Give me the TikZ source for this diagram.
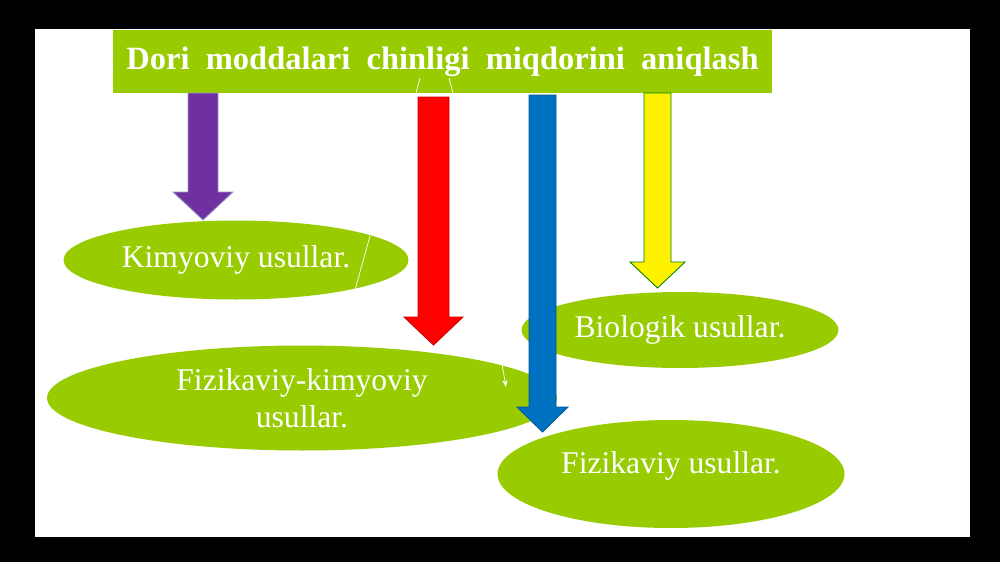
\documentclass[tikz,border=0pt]{standalone}
\usepackage{fontspec}
\setmainfont{Liberation Serif}
\usetikzlibrary{shapes.geometric,calc,arrows.meta}
\definecolor{slidegreen}{RGB}{153,204,0}
\definecolor{arrpurple}{RGB}{112,48,160}
\definecolor{arrblue}{RGB}{0,112,192}
\tikzstyle{head}=[fill=slidegreen, text=white, minimum width=13.18cm, minimum height=1.26cm, font=\bfseries\fontsize{18.5}{22}\selectfont]
\tikzstyle{method}=[ellipse, fill=slidegreen, text=white, inner sep=0pt, align=center, font=\fontsize{18}{21}\selectfont]
\tikzstyle{trace}=[white, thin]
% fat vertical arrow: fill, outline, shaft half width, head half width, head length, from, tip
\newcommand{\fatarrow}[7]{%
  \filldraw[fill=#1, draw=#2, line width=0.5pt]
    ($(#6)+(-#3,0)$) -- ($(#7)+(-#3,-#5)$) -- ($(#7)+(-#4,-#5)$) -- (#7)
    -- ($(#7)+(#4,-#5)$) -- ($(#7)+(#3,-#5)$) -- ($(#6)+(#3,0)$) -- cycle;}

\begin{document}
\begin{tikzpicture}[x=0.02cm,y=-0.02cm]
        \fill[black] (0,0) rectangle (1000,562);
        \fill[white] (35,29) rectangle (970,537);

        \node [head] (title) at (442.5,61.5) {Dori\ \ moddalari\ \ chinligi\ \ miqdorini\ \ aniqlash};
        \draw[trace] (420,78) -- (416,93);
        \draw[trace] (449,78) -- (453,93);

        \node [method, minimum width=6.9cm, minimum height=1.58cm] (kim) at (236,260) {Kimyoviy usullar.};
        \draw[trace] (370,236) -- (355,290);

        \coordinate (s1) at (203,93);  \coordinate (t1) at (203,220);
        \coordinate (s2) at (433.5,97); \coordinate (t2) at (433.5,345);
        \coordinate (s3) at (542.5,95); \coordinate (t3) at (542.5,432);
        \coordinate (s4) at (657.5,93); \coordinate (t4) at (657.5,288);

        \fatarrow{arrpurple}{black!60!blue!40}{15}{30}{28}{s1}{t1}
        \fatarrow{red}{red!80!black}{15.5}{29.5}{28}{s2}{t2}
        \fatarrow{yellow}{green!50!black}{13.5}{27.5}{26}{s4}{t4}

        \node [method, minimum width=6.34cm, minimum height=1.52cm] (bio) at (680,330) {Biologik usullar.};
        \node [method, minimum width=10.2cm, minimum height=2.1cm] (fk) at (302,398) {Fizikaviy-kimyoviy\\usullar.};
        \draw[trace, -{Stealth[length=4pt]}] (502,364) -- (506,387);
        \node [method, minimum width=6.94cm, minimum height=2.16cm] (fiz) at (671,474) {\raisebox{0.45cm}{Fizikaviy usullar.}};

        \fatarrow{arrblue}{arrblue!80!black}{13.5}{25.5}{25}{s3}{t3}
\end{tikzpicture}
\end{document}
